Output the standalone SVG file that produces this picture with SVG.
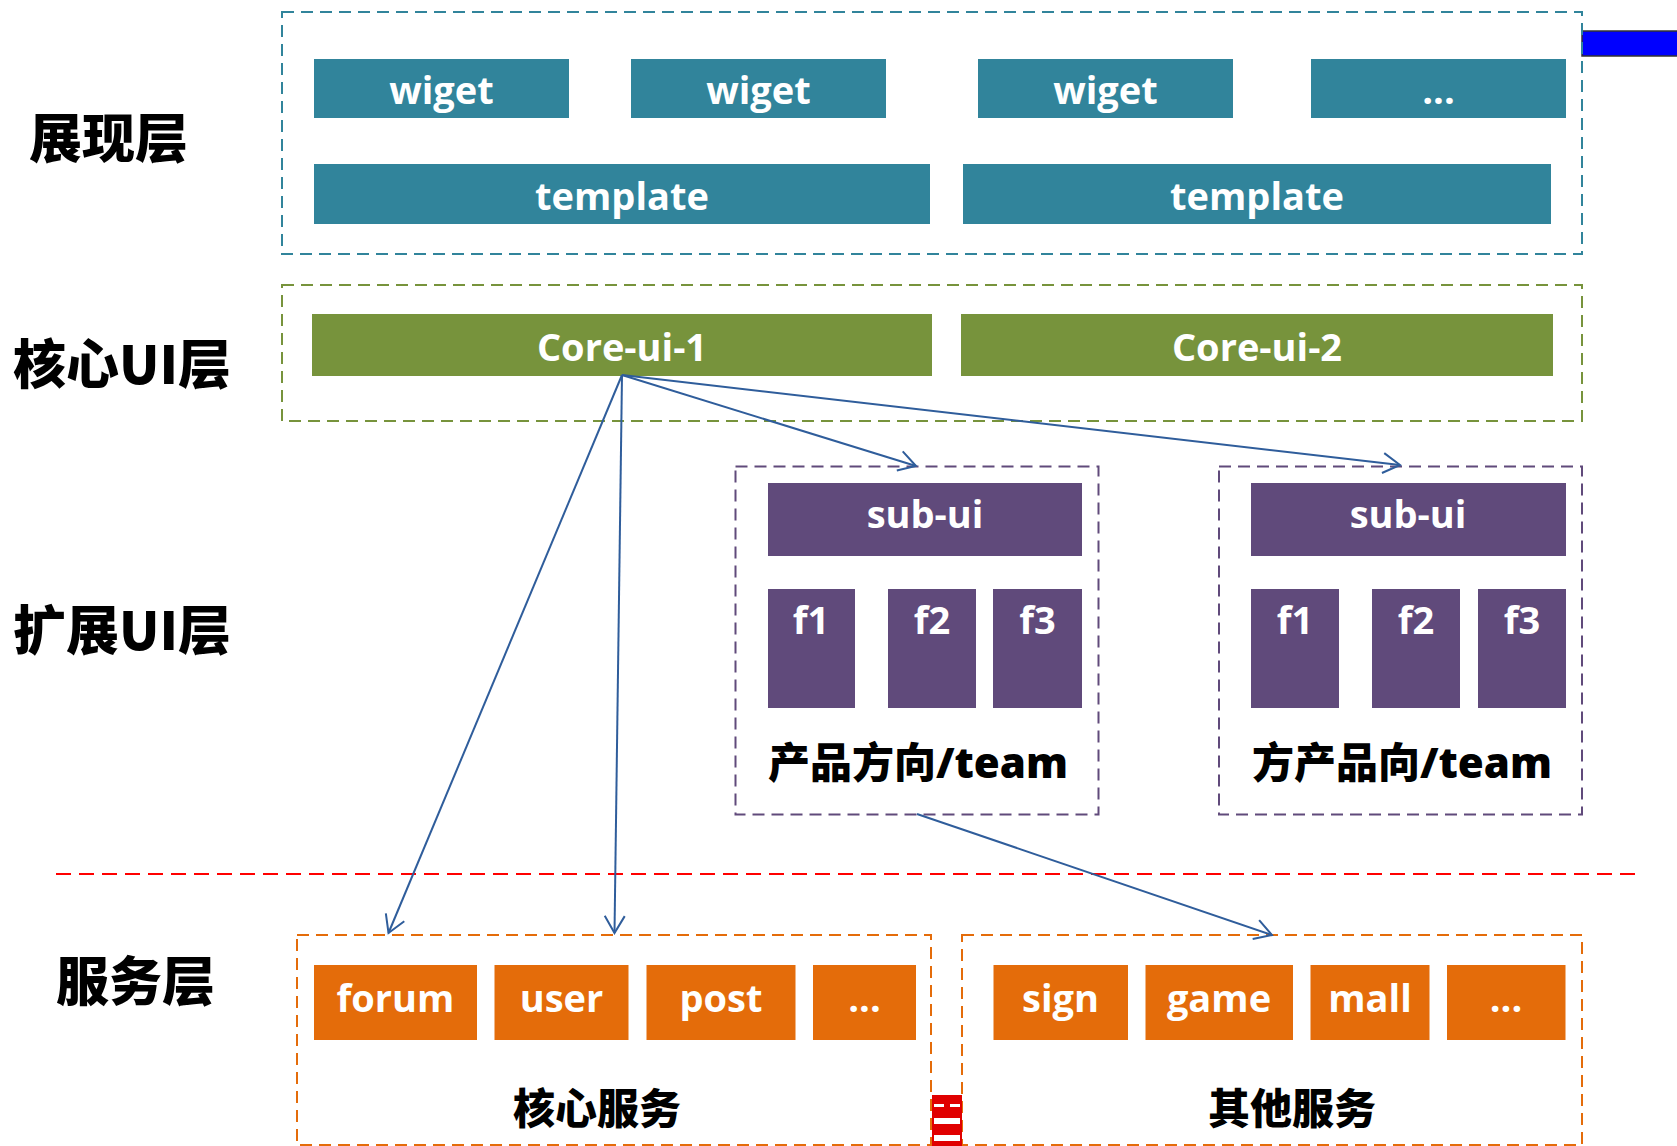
<svg xmlns="http://www.w3.org/2000/svg" width="1677" height="1146" viewBox="0 0 1677 1146">
<defs>
<style>
.bg{fill:#ffffff}
.frame{fill:none;stroke-width:2;stroke-dasharray:12 7}
.teal{fill:#31849B}
.green{fill:#77933C}
.purple{fill:#604A7B}
.orange{fill:#E46C0A}
.lbl{font-family:"Open Sans","Noto Sans","Liberation Sans",sans-serif;font-weight:700;font-size:38px;fill:#ffffff;text-anchor:middle}
.svc{font-size:38px}
.layer{font-family:"Noto Sans CJK SC","Noto Sans CJK JP",sans-serif;font-weight:900;font-size:53px;fill:#000000}
.cap{font-family:"Open Sans","Noto Sans CJK SC",sans-serif;font-weight:900;font-size:42px;fill:#000000;text-anchor:middle}
.conn{fill:none;stroke:#2F5D9B;stroke-width:2}
</style>
<marker id="arr" markerUnits="userSpaceOnUse" viewBox="-20 -12 24 24" markerWidth="24" markerHeight="24" refX="0" refY="0" orient="auto" overflow="visible">
<path d="M-17,-10 L0,0 L-17,10" fill="none" stroke="#2F5D9B" stroke-width="2"/>
</marker>
</defs>
<rect class="bg" x="0" y="0" width="1677" height="1146"/>

<!-- blue bar decoration -->
<rect x="1582" y="31" width="96" height="25" fill="#0000FF" stroke="#333333" stroke-width="1.5"/>

<!-- layer titles -->
<g id="layer-titles">
<text class="layer" x="29" y="158">展现层</text>
<text class="layer" x="13" y="384">核心UI层</text>
<text class="layer" x="13" y="650">扩展UI层</text>
<text class="layer" x="56" y="1001">服务层</text>
</g>

<!-- presentation layer -->
<g id="presentation-layer">
<rect class="frame" x="282" y="12" width="1300" height="242" stroke="#31849B"/>
<g id="wiget-1"><rect class="teal" x="314" y="59" width="255" height="59"/><text class="lbl" x="441.5" y="104">wiget</text></g>
<g id="wiget-2"><rect class="teal" x="631" y="59" width="255" height="59"/><text class="lbl" x="758.5" y="104">wiget</text></g>
<g id="wiget-3"><rect class="teal" x="978" y="59" width="255" height="59"/><text class="lbl" x="1105.5" y="104">wiget</text></g>
<g id="wiget-more"><rect class="teal" x="1311" y="59" width="255" height="59"/><text class="lbl" x="1438.5" y="104">...</text></g>
<g id="template-1"><rect class="teal" x="314" y="164" width="616" height="60"/><text class="lbl" x="622" y="210">template</text></g>
<g id="template-2"><rect class="teal" x="963" y="164" width="588" height="60"/><text class="lbl" x="1257" y="210">template</text></g>
</g>

<!-- core ui layer -->
<g id="core-ui-layer">
<rect class="frame" x="282" y="285" width="1300" height="136" stroke="#77933C"/>
<g id="core-ui-1"><rect class="green" x="312" y="314" width="620" height="62"/><text class="lbl" x="622" y="361">Core-ui-1</text></g>
<g id="core-ui-2"><rect class="green" x="961" y="314" width="592" height="62"/><text class="lbl" x="1257" y="361">Core-ui-2</text></g>
</g>

<!-- extension ui layer -->
<g id="ext-team-1">
<rect class="frame" x="735.5" y="466.5" width="363" height="348" stroke="#604A7B"/>
<g id="sub-ui-1"><rect class="purple" x="768" y="483" width="314" height="73"/><text class="lbl" x="925" y="528">sub-ui</text></g>
<g id="f1-a"><rect class="purple" x="768" y="589" width="87" height="119"/><text class="lbl" x="811" y="634">f1</text></g>
<g id="f2-a"><rect class="purple" x="888" y="589" width="88" height="119"/><text class="lbl" x="932" y="634">f2</text></g>
<g id="f3-a"><rect class="purple" x="993" y="589" width="89" height="119"/><text class="lbl" x="1037.5" y="634">f3</text></g>
<text class="cap" x="918" y="778">产品方向/team</text>
</g>
<g id="ext-team-2">
<rect class="frame" x="1219" y="466.5" width="363" height="348" stroke="#604A7B"/>
<g id="sub-ui-2"><rect class="purple" x="1251" y="483" width="315" height="73"/><text class="lbl" x="1408" y="528">sub-ui</text></g>
<g id="f1-b"><rect class="purple" x="1251" y="589" width="88" height="119"/><text class="lbl" x="1295" y="634">f1</text></g>
<g id="f2-b"><rect class="purple" x="1372" y="589" width="88" height="119"/><text class="lbl" x="1416" y="634">f2</text></g>
<g id="f3-b"><rect class="purple" x="1478" y="589" width="88" height="119"/><text class="lbl" x="1522" y="634">f3</text></g>
<text class="cap" x="1402" y="778">方产品向/team</text>
</g>

<!-- divider -->
<line x1="56" y1="874" x2="1643" y2="874" stroke="#FF0000" stroke-width="2" stroke-dasharray="15 8"/>

<!-- service layer -->
<g id="core-services">
<rect class="frame" x="297" y="935" width="634" height="210" stroke="#E46C0A"/>
<g id="svc-forum"><rect class="orange" x="314" y="965" width="163" height="75"/><text class="lbl svc" x="395.5" y="1012">forum</text></g>
<g id="svc-user"><rect class="orange" x="494.5" y="965" width="134" height="75"/><text class="lbl svc" x="561.5" y="1012">user</text></g>
<g id="svc-post"><rect class="orange" x="646.5" y="965" width="149" height="75"/><text class="lbl svc" x="721" y="1012">post</text></g>
<g id="svc-more-1"><rect class="orange" x="813" y="965" width="103" height="75"/><text class="lbl svc" x="864.5" y="1012">...</text></g>
<text class="cap" x="597" y="1124">核心服务</text>
</g>
<g id="other-services">
<rect class="frame" x="962" y="935" width="620" height="210" stroke="#E46C0A"/>
<g id="svc-sign"><rect class="orange" x="993.5" y="965" width="134.5" height="75"/><text class="lbl svc" x="1060.5" y="1012">sign</text></g>
<g id="svc-game"><rect class="orange" x="1145.5" y="965" width="147.5" height="75"/><text class="lbl svc" x="1219" y="1012">game</text></g>
<g id="svc-mall"><rect class="orange" x="1310.5" y="965" width="119" height="75"/><text class="lbl svc" x="1370" y="1012">mall</text></g>
<g id="svc-more-2"><rect class="orange" x="1447" y="965" width="118.5" height="75"/><text class="lbl svc" x="1506" y="1012">...</text></g>
<text class="cap" x="1292" y="1124">其他服务</text>
</g>

<!-- red mark between service boxes -->
<g id="red-mark">
<rect x="932" y="1095" width="30" height="51" fill="#E00000"/>
<rect x="934" y="1104" width="10" height="3" fill="#ffffff"/>
<rect x="950" y="1104" width="10" height="3" fill="#ffffff"/>
<rect x="934" y="1118" width="26" height="6" fill="#ffffff"/>
<rect x="934" y="1135" width="26" height="6" fill="#ffffff"/>
</g>

<!-- connectors -->
<g id="connectors">
<line class="conn" x1="622" y1="375" x2="388.5" y2="933" marker-end="url(#arr)"/>
<line class="conn" x1="622" y1="375" x2="614.5" y2="933" marker-end="url(#arr)"/>
<line class="conn" x1="622" y1="375" x2="916" y2="466" marker-end="url(#arr)"/>
<line class="conn" x1="622" y1="375" x2="1400" y2="465" marker-end="url(#arr)"/>
<line class="conn" x1="917" y1="814" x2="1272" y2="935" marker-end="url(#arr)"/>
</g>
</svg>
